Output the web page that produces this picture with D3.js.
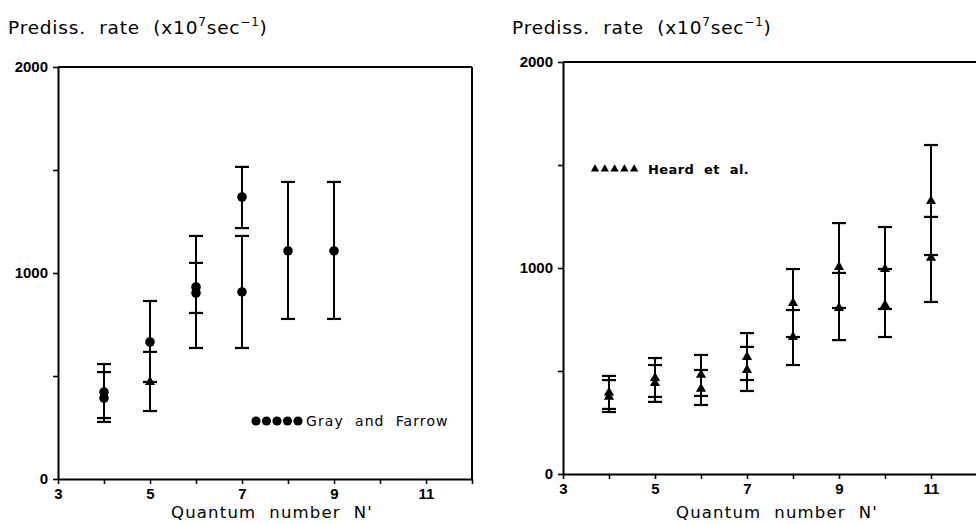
<!DOCTYPE html>
<html><head><meta charset="utf-8">
<script src="https://cdn.jsdelivr.net/npm/d3@7"></script>
<style>
body{margin:0;background:#fff;}
svg{display:block;font-family:"DejaVu Sans",sans-serif;}
text{white-space:pre;}
</style></head>
<body><svg id="c" width="976" height="524"></svg>
<script>
// ---- data ----
const xTickLabels = [3,5,7,9,11];
const yTickLabels = [0,1000,2000];

// Gray and Farrow (circles)
const grayN    = [4,   4,   5,   6,   6,   7,    7,   8,    9];
const grayRate = [422, 393, 665, 932, 903, 1369, 908, 1107, 1107];
const grayLow  = [296, 277, 471, 806, 636, 1218, 636, 777,  777];
const grayHigh = [558, 519, 864, 1049,1180,1515, 1180,1442, 1442];
// extra triangle point in left panel
const grayTriN    = [5];
const grayTriRate = [471];
const grayTriLow  = [330];
const grayTriHigh = [617];

// Heard et al. (triangles)
const heardN    = [4,   4,   5,   5,   6,   6,   7,   7,   8,   8,   9,    9,   10,   10,  11,   11];
const heardRate = [395, 375, 466, 442, 481, 413, 568, 505, 830, 665, 1005, 806, 995,  820, 1325, 1049];
const heardLow  = [301, 316, 374, 350, 379, 335, 456, 403, 665, 529, 806,  650, 801,  665, 1063, 835];
const heardHigh = [476, 456, 563, 529, 578, 505, 684, 617, 995, 796, 1218, 976, 1199, 995, 1597, 1248];

const svg = d3.select("#c");

function drawPanel(o){
  const g = svg.append("g");
  const x = d3.scaleLinear().domain([3,12]).range([o.x0, o.x0 + 9*46]);
  const y = d3.scaleLinear().domain([0,2000]).range([o.y0, o.y1]);
  // frame
  g.append("line").attr("x1",x(3)).attr("x2",x(12)).attr("y1",y(2000)).attr("y2",y(2000)).attr("stroke","#000").attr("stroke-width",2);
  if(o.rightBorder) g.append("line").attr("x1",x(12)).attr("x2",x(12)).attr("y1",y(2000)).attr("y2",y(0)).attr("stroke","#000").attr("stroke-width",2);
  // axes
  const xAxis = d3.axisBottom(x).tickValues(d3.range(3,13)).tickSizeInner(5).tickSizeOuter(0).tickPadding(2)
     .tickFormat(d => xTickLabels.includes(d) ? d : "");
  const yAxis = d3.axisLeft(y).tickValues([0,500,1000,1500,2000]).tickSizeInner(5).tickSizeOuter(0)
     .tickFormat(d => yTickLabels.includes(d) ? d : "");
  const gx = g.append("g").attr("transform",`translate(0,${y(0)})`).call(xAxis);
  const gy = g.append("g").attr("transform",`translate(${x(3)},0)`).call(yAxis);
  [gx,gy].forEach(a=>{
    a.select(".domain").attr("stroke","#000").attr("stroke-width",2);
    a.selectAll(".tick line").attr("stroke","#000").attr("stroke-width",1.6);
    a.selectAll(".tick text").attr("fill","#000").attr("font-size",15).attr("font-weight","bold");
  });
  gx.selectAll(".tick text").attr("dy","0.85em");
  gy.selectAll(".tick text").attr("dx","-2");
  // titles
  svg.append("text").attr("x",o.titleX).attr("y",34).attr("font-size",18.5).attr("fill","#000").attr("letter-spacing","0.8")
    .html('Prediss.  rate  (x10<tspan dy="-8" font-size="12">7</tspan><tspan dy="8">sec</tspan><tspan dy="-8" font-size="12">−1</tspan><tspan dy="8">)</tspan>');
  svg.append("text").attr("x",(x(3)+x(12))/2 + 7).attr("y",518).attr("text-anchor","middle")
    .attr("font-size",16.5).attr("fill","#000").attr("letter-spacing","1.2")
    .text("Quantum  number  N'");
  return {g,x,y};
}

function errorBars(p, N, R, L, H){
  const cap = 7;
  N.forEach((n,i)=>{
    const cx = p.x(n);
    p.g.append("line").attr("x1",cx).attr("x2",cx).attr("y1",p.y(L[i])).attr("y2",p.y(H[i])).attr("stroke","#000").attr("stroke-width",2);
    [L[i],H[i]].forEach(v=>{
      p.g.append("line").attr("x1",cx-cap).attr("x2",cx+cap).attr("y1",p.y(v)).attr("y2",p.y(v)).attr("stroke","#000").attr("stroke-width",2.2);
    });
  });
}
const triSym = d3.symbol().type(d3.symbolTriangle).size(45);
function circles(p,N,R){
  N.forEach((n,i)=>p.g.append("circle").attr("cx",p.x(n)).attr("cy",p.y(R[i])).attr("r",4.8).attr("fill","#000"));
}
function triangles(p,N,R){
  N.forEach((n,i)=>p.g.append("path").attr("d",triSym()).attr("transform",`translate(${p.x(n)},${p.y(R[i])})`).attr("fill","#000"));
}

// Left panel
const L = drawPanel({x0:58, y0:479, y1:67, titleX:8, rightBorder:true});
errorBars(L, grayN, grayRate, grayLow, grayHigh);
errorBars(L, grayTriN, grayTriRate, grayTriLow, grayTriHigh);
circles(L, grayN, grayRate);
triangles(L, grayTriN, grayTriRate);
// legend left
d3.range(5).forEach(i=>L.g.append("circle").attr("cx",256+i*10.5).attr("cy",421).attr("r",4.6).attr("fill","#000"));
L.g.append("text").attr("x",306).attr("y",426).attr("font-size",14).attr("fill","#000").attr("letter-spacing","1.1").text("Gray  and  Farrow");

// Right panel
const R = drawPanel({x0:563, y0:474, y1:62, titleX:512, rightBorder:false});
errorBars(R, heardN, heardRate, heardLow, heardHigh);
triangles(R, heardN, heardRate);
// legend right
const legTri = d3.symbol().type(d3.symbolTriangle).size(30);
d3.range(5).forEach(i=>R.g.append("path").attr("d",legTri()).attr("transform",`translate(${595+i*9.8},${169})`).attr("fill","#000"));
R.g.append("text").attr("x",648).attr("y",174).attr("font-size",13).attr("font-weight","bold").attr("fill","#000").attr("letter-spacing","0.4").text("Heard  et  al.");
</script></body></html>
